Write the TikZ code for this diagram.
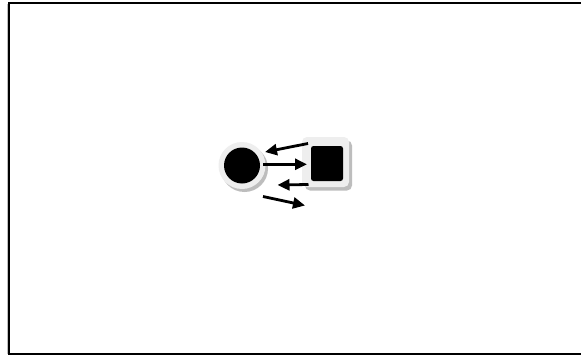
\documentclass[tikz,border=0pt]{standalone}
\usetikzlibrary{arrows.meta}
\definecolor{ringgray}{HTML}{EEEEEE}
\definecolor{shadgray}{HTML}{BDBDBD}
\tikzset{
  ring/.style={circle, fill=ringgray, minimum size=47pt, inner sep=0pt},
  ringshadow/.style={circle, fill=shadgray, minimum size=47pt, inner sep=0pt},
  dot/.style={circle, fill=black, minimum size=36pt, inner sep=0pt},
  plate/.style={rectangle, rounded corners=5pt, fill=ringgray, minimum width=47pt, minimum height=50pt, inner sep=0pt},
  plateshadow/.style={rectangle, rounded corners=5pt, fill=shadgray, minimum width=47pt, minimum height=50pt, inner sep=0pt},
  blk/.style={rectangle, rounded corners=2.5pt, fill=black, minimum width=32pt, minimum height=35pt, inner sep=0pt},
  arr/.style={line width=2.8pt, -{Triangle[length=12pt,width=11pt]}},
}
\begin{document}
\begin{tikzpicture}[x=1pt,y=-1pt]
\useasboundingbox (0,0) rectangle (581,356);
\fill[white] (0,0) rectangle (581,356);
\draw[gray!50, line width=1pt] (7.5,4) -- (7.5,354);
\draw[black, line width=1.6pt] (595,3) -- (9,3) -- (9,354) -- (595,354);
% circle group
\node[ringshadow] (cs) at (244.5,168.5) {};
\node[ring] (cr) at (242,165.5) {};
\node[dot] (c) at (242,165.5) {};
% square group
\node[plateshadow] (ss) at (328.5,165.5) {};
\node[plate] (sr) at (325.5,162) {};
\node[blk] (s) at (327,163.5) {};
% arrow endpoints
\coordinate (a1s) at (308,143.5);
\coordinate (a1e) at (265,152);
\coordinate (a2s) at (263,164.3);
\coordinate (a2e) at (307,164.3);
\coordinate (a3s) at (308.5,184.5);
\coordinate (a3e) at (277.5,185);
\coordinate (a4s) at (263,196.5);
\coordinate (a4e) at (305,205.5);
\draw[arr] (a1s) -- (a1e);
\draw[arr] (a2s) -- (a2e);
\draw[arr] (a3s) -- (a3e);
\draw[arr] (a4s) -- (a4e);
\end{tikzpicture}
\end{document}
